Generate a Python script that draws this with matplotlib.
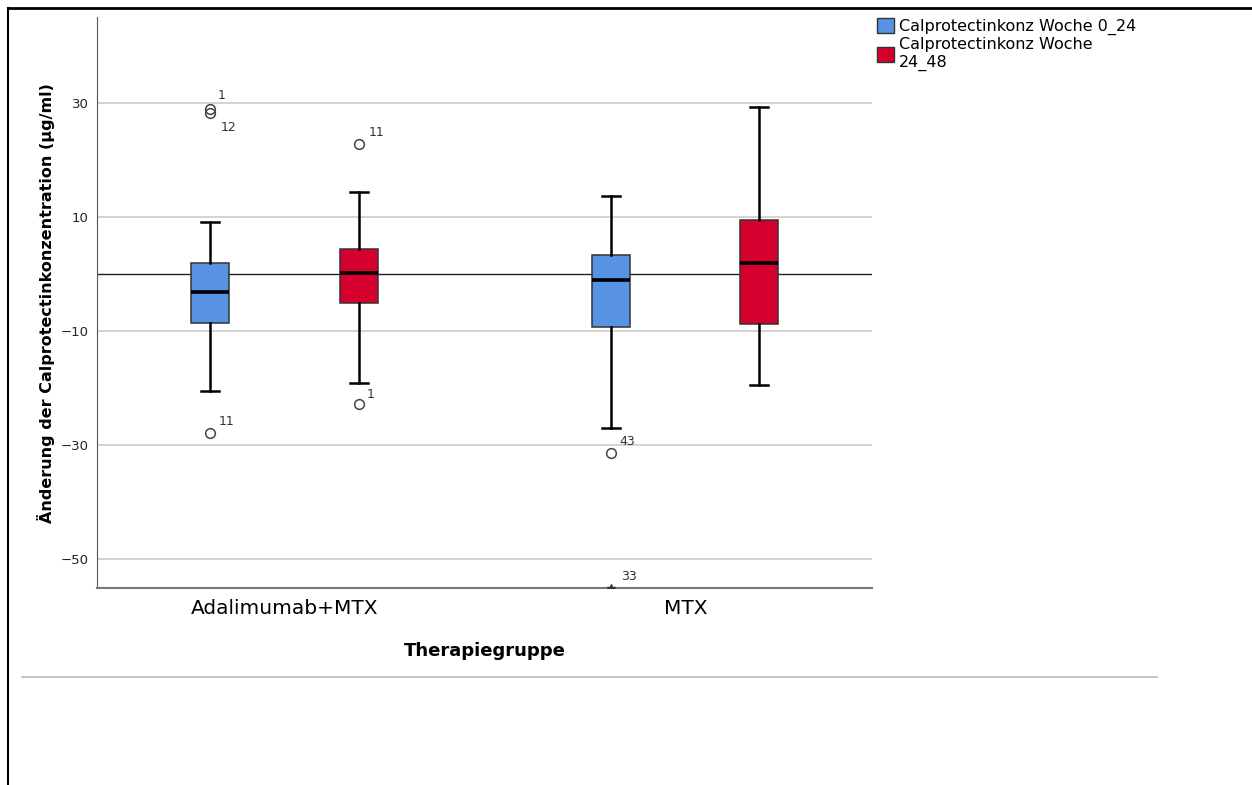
import matplotlib
matplotlib.use("Agg")
import matplotlib.pyplot as plt
from matplotlib.lines import Line2D
from matplotlib.patches import Patch

groups = ["Adalimumab+MTX", "MTX"]
series = ["Calprotectinkonz Woche 0_24", "Calprotectinkonz Woche\n24_48"]
colors = ["#5793e2", "#d5002e"]

# box stats: (whislo, q1, median, q3, whishi)
blue_stats = [(-20.5, -8.5, -3.2, 2.0, 9.2), (-26.9, -9.2, -1.1, 3.3, 13.6)]
red_stats = [(-19.0, -5.0, 0.25, 4.4, 14.4), (-19.5, -8.7, 2.0, 9.5, 29.3)]

# outliers (value, case label, label offset in px)
blue_out = [[(28.9, "1", (7, 10)), (28.3, "12", (10, -18)), (-27.8, "11", (8, 8))],
            [(-31.4, "43", (8, 8))]]
red_out = [[(22.8, "11", (10, 8)), (-22.7, "1", (8, 6))], []]
extremes = [[], [(-55.0, "33", (10, 8))]]  # extreme value shown as *, blue MTX

yticks = [30, 10, -10, -30, -50]

fig = plt.figure(figsize=(12.52, 7.85), dpi=100)
ax = fig.add_axes([0.0775, 0.251, 0.619, 0.727])

off = 0.185
w = 0.095
for s_idx, (stats, outs, col) in enumerate([(blue_stats, blue_out, colors[0]),
                                             (red_stats, red_out, colors[1])]):
    dx = -off if s_idx == 0 else off
    bstats = []
    for g, (lo, q1, med, q3, hi) in enumerate(stats):
        bstats.append(dict(whislo=lo, q1=q1, med=med, q3=q3, whishi=hi,
                           fliers=[v for v, _, _ in outs[g]]))
    ax.bxp(bstats, positions=[g + dx for g in range(len(groups))], widths=w,
           patch_artist=True, capwidths=0.045,
           boxprops=dict(facecolor=col, edgecolor="#333333", linewidth=1.1),
           medianprops=dict(color="black", linewidth=2.6),
           whiskerprops=dict(color="black", linewidth=1.8),
           capprops=dict(color="black", linewidth=1.8),
           flierprops=dict(marker="o", markersize=7, markerfacecolor="none",
                           markeredgecolor="#444444", markeredgewidth=1.1),
           zorder=3)
    for g in range(len(groups)):
        for v, lab, (px, py) in outs[g]:
            ax.annotate(lab, (g + dx, v), xytext=(px, py), textcoords="offset pixels",
                        fontsize=9, color="#333333")

for g in range(len(groups)):
    for v, lab, (px, py) in extremes[g]:
        ax.plot([g - off], [v], marker="*", markersize=6, color="#333333",
                linestyle="none", zorder=4)
        ax.annotate(lab, (g - off, v), xytext=(px, py), textcoords="offset pixels",
                    fontsize=9, color="#333333")

ax.axhline(0, color="#222222", linewidth=1.0, zorder=2)
for t in yticks:
    ax.axhline(t, color="#cccccc", linewidth=1.2, zorder=1)

ax.set_xlim(-0.468, 1.466)
ax.set_ylim(-55, 45)
ax.set_yticks(yticks)
ax.set_yticklabels(["\u2212" + str(-t) if t < 0 else str(t) for t in yticks],
                   fontsize=9.5, color="#222222")
ax.set_xticks(range(len(groups)))
ax.set_xticklabels(groups, fontsize=14.5)
ax.tick_params(axis="both", length=0, pad=6)
ax.tick_params(axis="x", pad=8)

for sp in ["top", "right"]:
    ax.spines[sp].set_visible(False)
ax.spines["left"].set_color("#555555")
ax.spines["bottom"].set_color("#777777")
ax.spines["bottom"].set_linewidth(1.5)

ax.set_ylabel("Änderung der Calprotectinkonzentration (µg/ml)", fontsize=11.5,
              fontweight="bold", labelpad=4)
ax.set_xlabel("Therapiegruppe", fontsize=13, fontweight="bold", labelpad=17)

handles = [Patch(facecolor=c, edgecolor="#333333", linewidth=1) for c in colors]
fig.legend(handles, series, loc="upper left", bbox_to_anchor=(0.695, 0.985),
           frameon=False, fontsize=11.5, handlelength=1.1, handleheight=1.1,
           handletextpad=0.3, labelspacing=0.1, borderaxespad=0)

# figure frame and separator line
fig.add_artist(Line2D([0.0064, 1.0], [0.99, 0.99], transform=fig.transFigure,
                      color="black", linewidth=2))
fig.add_artist(Line2D([0.0064, 0.0064], [0.0, 0.99], transform=fig.transFigure,
                      color="black", linewidth=1.5))
fig.add_artist(Line2D([0.0176, 0.924], [0.1376, 0.1376], transform=fig.transFigure,
                      color="#bbbbbb", linewidth=1.2))

fig.savefig("out.png", dpi=100)
